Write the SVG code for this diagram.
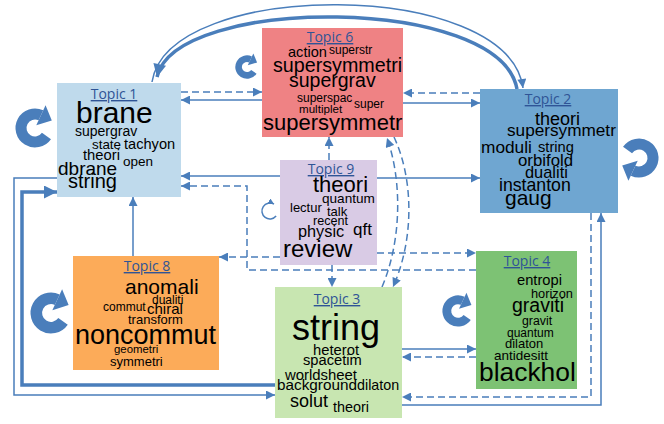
<svg xmlns="http://www.w3.org/2000/svg" xmlns:xlink="http://www.w3.org/1999/xlink" width="664" height="424" viewBox="0 0 664 424">
<style>
.box{stroke:none}
.t{font-family:"Open Sans","Liberation Sans",sans-serif;font-size:14px;fill:#2f5496;text-anchor:middle;text-decoration:underline}
.w{font-family:"Liberation Sans",Arial,sans-serif;fill:#000}
.c{fill:none;stroke:#4a7ebb;stroke-width:1.5}
.d{stroke-dasharray:7,4}
.k{stroke-width:3.5}
</style>
<defs>
<marker id="a" viewBox="0 0 10 10" refX="10" refY="5" markerWidth="10" markerHeight="9" markerUnits="userSpaceOnUse" orient="auto"><path d="M0,0L10,5L0,10z" fill="#4a7ebb"/></marker>
<marker id="A" viewBox="0 0 10 10" refX="10" refY="5" markerWidth="15" markerHeight="13" markerUnits="userSpaceOnUse" orient="auto"><path d="M0,0L10,5L0,10z" fill="#4a7ebb"/></marker>
<marker id="s" viewBox="0 0 10 10" refX="10" refY="5" markerWidth="6" markerHeight="6" markerUnits="userSpaceOnUse" orient="auto"><path d="M0,0L10,5L0,10z" fill="#4a7ebb"/></marker>
<g id="loop"><path d="M11.47,8.03A14,14 0 1 1 5.92,-12.69" fill="none" stroke="#4a7ebb" stroke-width="11"/><polygon points="10.57,-22.66 1.27,-2.72 16.79,-7.61" fill="#4a7ebb"/></g>
</defs>

<g id="connectors">
<path class="c" d="M152,82C168,-22 508,-22 523,88" marker-end="url(#a)"/>
<path class="c k" d="M517,89C500,-5 175,-5 157,77" marker-end="url(#A)"/>
<path class="c d" d="M181,92L262,92" marker-end="url(#a)"/>
<path class="c" d="M262,100L181,100" marker-end="url(#a)"/>
<path class="c d" d="M480,93L403,93" marker-end="url(#a)"/>
<path class="c" d="M403,103L480,103" marker-end="url(#a)"/>
<path class="c d" d="M329,160L329,137" marker-end="url(#a)"/>
<path class="c d" d="M382,287C402,240 402,180 387,138" marker-end="url(#a)"/>
<path class="c d" d="M394,137C414,180 414,240 393,287" marker-end="url(#a)"/>
<path class="c" d="M280,176L181,176" marker-end="url(#a)"/>
<path class="c" d="M377,178L480,178" marker-end="url(#a)"/>
<path class="c d" d="M476,270L247,270L247,186L181,186" marker-end="url(#a)"/>
<path class="c d" d="M280,257L219,257" marker-end="url(#a)"/>
<path class="c d" d="M377,253L476,253" marker-end="url(#a)"/>
<path class="c d" d="M332,265L332,287" marker-end="url(#a)"/>
<path class="c" d="M133,256L133,197" marker-end="url(#a)"/>
<path class="c k" d="M275,385L22,385L22,192L57,192" marker-end="url(#A)"/>
<path class="c" d="M57,178L14,178L14,395L275,395" marker-end="url(#a)"/>
<path class="c" d="M402,349L476,349" marker-end="url(#a)"/>
<path class="c d" d="M476,357L402,357" marker-end="url(#a)"/>
<path class="c d" d="M591,213L591,397L402,397" marker-end="url(#a)"/>
<path class="c" d="M402,405L601,405L601,213" marker-end="url(#a)"/>
<use xlink:href="#loop" href="#loop" transform="translate(35,128)"/>
<use xlink:href="#loop" href="#loop" transform="translate(247,67) scale(0.6)"/>
<use xlink:href="#loop" href="#loop" transform="translate(639,158) rotate(180)"/>
<use xlink:href="#loop" href="#loop" transform="translate(51,313) scale(1.05)"/>
<use xlink:href="#loop" href="#loop" transform="translate(458,311) scale(0.8)"/>
<path class="c" d="M276.1,216.1A8,8 0 1 1 274,204.1" marker-end="url(#s)"/>
</g>

<g id="topic1">
<rect class="box" x="57" y="83" width="124" height="114" fill="#bfdaec"/>
<text class="t" x="114" y="99">Topic 1</text>
<text class="w" x="76" y="123" font-size="30">brane</text>
<text class="w" x="75" y="136" font-size="14">supergrav</text>
<text class="w" x="92" y="149" font-size="13.4">state</text>
<text class="w" x="124" y="149" font-size="14.6">tachyon</text>
<text class="w" x="83" y="160" font-size="14.8">theori</text>
<text class="w" x="123" y="166" font-size="13.5">open</text>
<text class="w" x="58" y="175" font-size="19">dbrane</text>
<text class="w" x="68" y="188" font-size="20">string</text>
</g>

<g id="topic6">
<rect class="box" x="262" y="28" width="141" height="109" fill="#ef8284"/>
<text class="t" x="330" y="42">Topic 6</text>
<text class="w" x="288" y="57" font-size="14.6">action</text>
<text class="w" x="329" y="54" font-size="12">superstr</text>
<text class="w" x="273" y="72" font-size="19.7">supersymmetri</text>
<text class="w" x="289" y="87" font-size="19.5">supergrav</text>
<text class="w" x="297" y="102" font-size="12">superspac</text>
<text class="w" x="354" y="108" font-size="12">super</text>
<text class="w" x="299" y="113" font-size="11.6">multiplet</text>
<text class="w" x="263" y="130" font-size="22">supersymmetr</text>
</g>

<g id="topic2">
<rect class="box" x="480" y="89" width="138" height="124" fill="#6fa6d1"/>
<text class="t" x="548" y="104">Topic 2</text>
<text class="w" x="535" y="125" font-size="18">theori</text>
<text class="w" x="507" y="136" font-size="17.2">supersymmetr</text>
<text class="w" x="481" y="153" font-size="17.3">moduli</text>
<text class="w" x="538" y="152" font-size="14.7">string</text>
<text class="w" x="518" y="166" font-size="16.8">orbifold</text>
<text class="w" x="525" y="178" font-size="16.4">dualiti</text>
<text class="w" x="499" y="191" font-size="17.7">instanton</text>
<text class="w" x="505" y="205" font-size="21">gaug</text>
</g>

<g id="topic9">
<rect class="box" x="280" y="160" width="97" height="105" fill="#d9cbe5"/>
<text class="t" x="331" y="174">Topic 9</text>
<text class="w" x="313" y="192" font-size="22">theori</text>
<text class="w" x="322" y="203" font-size="13.6">quantum</text>
<text class="w" x="290" y="212" font-size="13">lectur</text>
<text class="w" x="327" y="216" font-size="13">talk</text>
<text class="w" x="313" y="225" font-size="12.6">recent</text>
<text class="w" x="298" y="237" font-size="16.3">physic</text>
<text class="w" x="353" y="235" font-size="17">qft</text>
<text class="w" x="283" y="257" font-size="24">review</text>
</g>

<g id="topic8">
<rect class="box" x="73" y="256" width="146" height="114" fill="#fcab59"/>
<text class="t" x="147" y="271">Topic 8</text>
<text class="w" x="125" y="294" font-size="21">anomali</text>
<text class="w" x="152" y="304" font-size="12">dualiti</text>
<text class="w" x="103" y="311" font-size="12">commut</text>
<text class="w" x="147" y="314" font-size="15">chiral</text>
<text class="w" x="128" y="324" font-size="13">transform</text>
<text class="w" x="75" y="344" font-size="27">noncommut</text>
<text class="w" x="114" y="353" font-size="11.4">geometri</text>
<text class="w" x="110" y="366" font-size="13">symmetri</text>
</g>

<g id="topic3">
<rect class="box" x="275" y="287" width="127" height="131" fill="#c8e6b1"/>
<text class="t" x="337" y="304">Topic 3</text>
<text class="w" x="292" y="340" font-size="36">string</text>
<text class="w" x="313" y="355" font-size="14.8">heterot</text>
<text class="w" x="303" y="365" font-size="14.7">spacetim</text>
<text class="w" x="285" y="380" font-size="14.9">worldsheet</text>
<text class="w" x="277" y="390" font-size="15.3">background</text>
<text class="w" x="357" y="390" font-size="14.3">dilaton</text>
<text class="w" x="290" y="407" font-size="18">solut</text>
<text class="w" x="333" y="412" font-size="14.4">theori</text>
</g>

<g id="topic4">
<rect class="box" x="476" y="251" width="101" height="138" fill="#7dc274"/>
<text class="t" x="527" y="266">Topic 4</text>
<text class="w" x="517" y="285" font-size="14.7">entropi</text>
<text class="w" x="531" y="298" font-size="12.8">horizon</text>
<text class="w" x="512" y="312" font-size="19.5">graviti</text>
<text class="w" x="522" y="325" font-size="12.3">gravit</text>
<text class="w" x="507" y="337" font-size="12">quantum</text>
<text class="w" x="505" y="348" font-size="13">dilaton</text>
<text class="w" x="494" y="360" font-size="13.5">antidesitt</text>
<text class="w" x="479" y="381" font-size="26.4">blackhol</text>
</g>
</svg>
